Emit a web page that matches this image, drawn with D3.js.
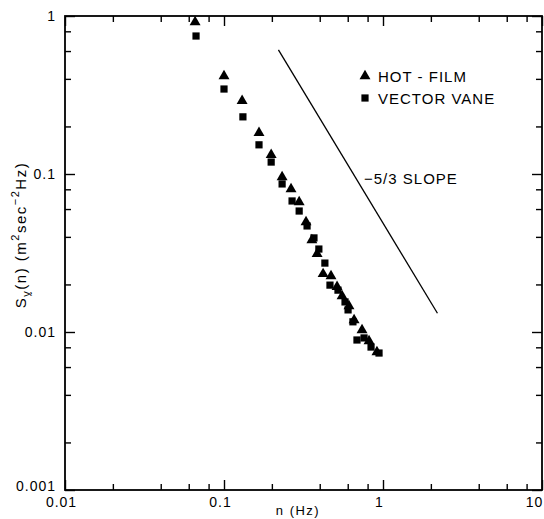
<!DOCTYPE html>
<html>
<head>
  <meta charset="utf-8">
  <title>Spectrum</title>
  <style>
    body { margin: 0; background: #fff; }
    text { font-family: "Liberation Sans", Arial, sans-serif; fill: #000; }
  </style>
</head>
<body>
  <svg></svg>
  <script src="https://d3js.org/d3.v7.min.js"></script>
  <script>
    const width = 544;
    const height = 519;

    // hot-film points (triangles)
    const hotFilmN = [0.0658, 0.100, 0.130, 0.166, 0.198, 0.232, 0.264, 0.297, 0.328, 0.357,
      0.385, 0.420, 0.471, 0.514, 0.553, 0.611, 0.658, 0.738, 0.817, 0.916];
    const hotFilmS = [0.916, 0.417, 0.290, 0.182, 0.132, 0.0957, 0.0804, 0.0665, 0.0497, 0.0382,
      0.0312, 0.0233, 0.0226, 0.0193, 0.0169, 0.0146, 0.0119, 0.0103, 0.00877, 0.00747];

    // vector vane points (squares)
    const vaneN = [0.0667, 0.100, 0.1315, 0.166, 0.198, 0.232, 0.268, 0.297, 0.333, 0.368,
      0.395, 0.431, 0.464, 0.521, 0.577, 0.603, 0.647, 0.686, 0.760, 0.841, 0.944];
    const vaneS = [0.747, 0.345, 0.230, 0.153, 0.119, 0.0865, 0.0675, 0.0583, 0.0469, 0.0394,
      0.0335, 0.0273, 0.0198, 0.0184, 0.0155, 0.0138, 0.0116, 0.00890, 0.00917, 0.00803, 0.00736];

    // reference -5/3 line
    const slopeN = [0.22, 2.2];
    const slopeS = [0.61, 0.61 * Math.pow(10, -5 / 3)];

    const xTicks = [0.01, 0.1, 1, 10];
    const xTickLabels = ["0.01", "0.1", "1", "10"];
    const yTicks = [0.001, 0.01, 0.1, 1];
    const yTickLabels = ["0.001", "0.01", "0.1", "1"];

    const x = d3.scaleLog([0.01, 10], [65, 542]);
    const y = d3.scaleLog([0.001, 1], [490, 16]);

    // minor ticks at 2,4,6,8 of each decade
    const minorX = [], minorY = [];
    [0.01, 0.1, 1].forEach(d => [2, 4, 6, 8].forEach(m => minorX.push(d * m)));
    [0.001, 0.01, 0.1].forEach(d => [2, 4, 6, 8].forEach(m => minorY.push(d * m)));

    const svg = d3.select("svg")
      .attr("width", width)
      .attr("height", height)
      .attr("viewBox", [0, 0, width, height]);

    function drawAxis(axis, tx, ty, major, minor, labels) {
      const g = svg.append("g").attr("transform", `translate(${tx},${ty})`);
      g.call(axis.tickValues(major).tickSize(-10).tickPadding(7)
        .tickFormat((d, i) => labels ? labels[i] : ""));
      const gm = svg.append("g").attr("transform", `translate(${tx},${ty})`);
      gm.call(axis.tickValues(minor).tickSize(-6).tickFormat(""));
      [g, gm].forEach(s => {
        s.selectAll(".domain").remove();
        s.selectAll("line").attr("stroke", "#000").attr("stroke-width", 1.4);
        s.attr("font-size", null).attr("font-family", null);
      });
      return g;
    }

    const gb = drawAxis(d3.axisBottom(x), 0, 490, xTicks, minorX, xTickLabels);
    gb.selectAll("text").attr("font-size", 14).attr("letter-spacing", 1)
      .attr("dx", (d, i) => i === xTicks.length - 1 ? -8 : -4);
    drawAxis(d3.axisTop(x), 0, 16, xTicks, minorX, null);
    const gl = drawAxis(d3.axisLeft(y), 65, 0, yTicks, minorY, yTickLabels);
    gl.selectAll("text").attr("font-size", 14).attr("letter-spacing", 1).attr("dx", -2)
      .attr("dy", (d, i) => i === 0 ? "0.05em" : "0.32em");
    drawAxis(d3.axisRight(y), 542, 0, yTicks, minorY, null);

    svg.append("rect")
      .attr("x", 65).attr("y", 16)
      .attr("width", 542 - 65).attr("height", 490 - 16)
      .attr("fill", "none").attr("stroke", "#000").attr("stroke-width", 1.8);

    // slope line
    svg.append("line")
      .attr("x1", x(slopeN[0])).attr("y1", y(slopeS[0]))
      .attr("x2", x(slopeN[1])).attr("y2", y(slopeS[1]))
      .attr("stroke", "#000").attr("stroke-width", 1.3);

    const tri = d3.symbol(d3.symbolTriangle, 52);
    const sq = d3.symbol(d3.symbolSquare, 52);

    svg.append("g").selectAll("path")
      .data(d3.zip(vaneN, vaneS))
      .join("path")
      .attr("transform", d => `translate(${x(d[0])},${y(d[1])})`)
      .attr("d", sq)
      .attr("fill", "#000");

    svg.append("g").selectAll("path")
      .data(d3.zip(hotFilmN, hotFilmS))
      .join("path")
      .attr("transform", d => `translate(${x(d[0])},${y(d[1])})`)
      .attr("d", tri)
      .attr("fill", "#000");

    // legend
    const legend = [["HOT - FILM", tri, 76], ["VECTOR VANE", sq, 98]];
    legend.forEach(([label, sym, ly]) => {
      svg.append("path").attr("transform", `translate(365,${ly})`).attr("d", sym).attr("fill", "#000");
      svg.append("text").attr("x", 378).attr("y", ly + 5.5)
        .attr("font-size", 15).attr("letter-spacing", 1).text(label);
    });

    svg.append("text").attr("x", 364).attr("y", 184)
      .attr("font-size", 15).attr("letter-spacing", 1).text("\u22125/3 SLOPE");

    // axis titles
    svg.append("text")
      .attr("x", 298).attr("y", 515)
      .attr("text-anchor", "middle").attr("font-size", 13).attr("letter-spacing", 1.5)
      .text("n (Hz)");

    const yt = svg.append("text")
      .attr("transform", "translate(26,235) rotate(-90)")
      .attr("text-anchor", "middle").attr("font-size", 15).attr("letter-spacing", 1.5);
    yt.append("tspan").text("S");
    yt.append("tspan").attr("font-size", 11).attr("dy", 4).text("v\u0330");
    yt.append("tspan").attr("dy", -4).text("(n)  (m");
    yt.append("tspan").attr("font-size", 11).attr("dy", -7).text("2");
    yt.append("tspan").attr("dy", 7).text("sec");
    yt.append("tspan").attr("font-size", 11).attr("dy", -7).text("\u22122");
    yt.append("tspan").attr("dy", 7).text("Hz)");
  </script>
</body>
</html>
